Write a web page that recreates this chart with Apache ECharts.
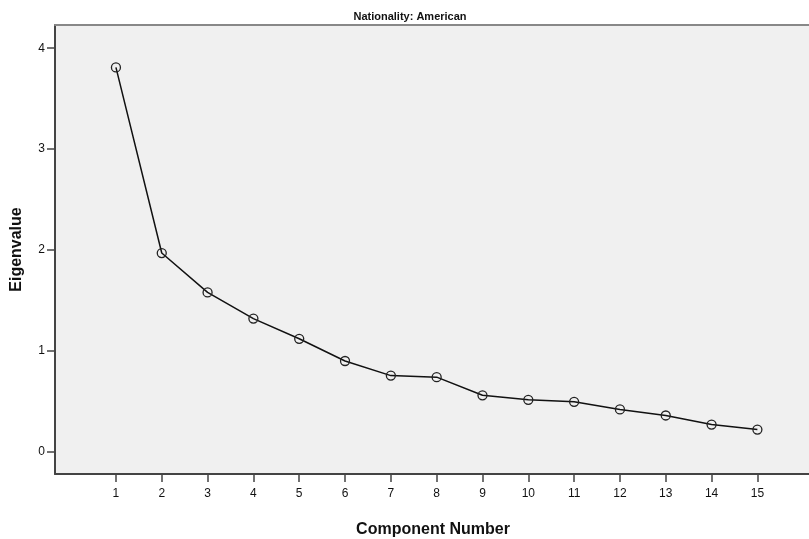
<!DOCTYPE html>
<html>
<head>
<meta charset="utf-8">
<script src="https://cdn.jsdelivr.net/npm/echarts@6/dist/echarts.min.js"></script>
<style>
html,body{margin:0;padding:0;background:#fff;}
#chart{width:809px;height:539px;}
</style>
</head>
<body>
<div id="chart"></div>
<script>
const components = [1,2,3,4,5,6,7,8,9,10,11,12,13,14,15];
const eigenvalues = [3.81,1.97,1.58,1.32,1.12,0.90,0.755,0.74,0.56,0.515,0.495,0.42,0.36,0.27,0.22];
const yTicks = [0,1,2,3,4];
const xTicks = components;
const titleText = 'Nationality: American';
const xName = 'Component Number';
const yName = 'Eigenvalue';

const chart = echarts.init(document.getElementById('chart'), null, {renderer:'canvas'});
const font = 'Arial, "Liberation Sans", sans-serif';
chart.setOption({
  animation:false,
  backgroundColor:'#ffffff',
  title:{text:titleText,left:405,top:6,textAlign:'center',
    textStyle:{fontFamily:font,fontWeight:'bold',fontSize:11,color:'#111'}},
  grid:{left:55,top:25,right:-2,bottom:65,show:true,backgroundColor:'#f0f0f0',borderWidth:0,
    outerBoundsMode:'none',containLabel:false},
  xAxis:[{
    type:'value',min:-0.33,max:16.17,position:'bottom',
    name:xName,nameLocation:'middle',nameGap:48,
    nameTextStyle:{fontFamily:font,fontWeight:'bold',fontSize:16,color:'#111'},
    axisLine:{show:true,onZero:false,lineStyle:{color:'#444',width:2}},
    axisTick:{show:true,length:8,customValues:xTicks,lineStyle:{color:'#444',width:1.5}},
    axisLabel:{customValues:xTicks,margin:14,fontFamily:font,fontSize:12,color:'#111'},
    splitLine:{show:false}
  },{
    type:'value',min:-0.33,max:16.17,position:'top',
    axisLine:{show:true,onZero:false,lineStyle:{color:'#888',width:2}},
    axisTick:{show:false},axisLabel:{show:false},splitLine:{show:false}
  }],
  yAxis:{
    type:'value',min:-0.22,max:4.23,
    name:yName,nameLocation:'middle',nameGap:30,nameRotate:90,
    nameTextStyle:{fontFamily:font,fontWeight:'bold',fontSize:16,color:'#111'},
    axisLine:{show:true,onZero:false,lineStyle:{color:'#444',width:2}},
    axisTick:{show:true,length:8,customValues:yTicks,lineStyle:{color:'#444',width:1.5}},
    axisLabel:{customValues:yTicks,margin:10,fontFamily:font,fontSize:12,color:'#111'},
    splitLine:{show:false}
  },
  series:[{
    type:'line',
    data:components.map((c,i)=>[c,eigenvalues[i]]),
    symbol:'circle',symbolSize:9,showAllSymbol:true,
    lineStyle:{color:'#111',width:1.5},
    itemStyle:{color:'rgba(0,0,0,0)',borderColor:'#222',borderWidth:1.3},
    emphasis:{disabled:true}
  }]
});
</script>
</body>
</html>
